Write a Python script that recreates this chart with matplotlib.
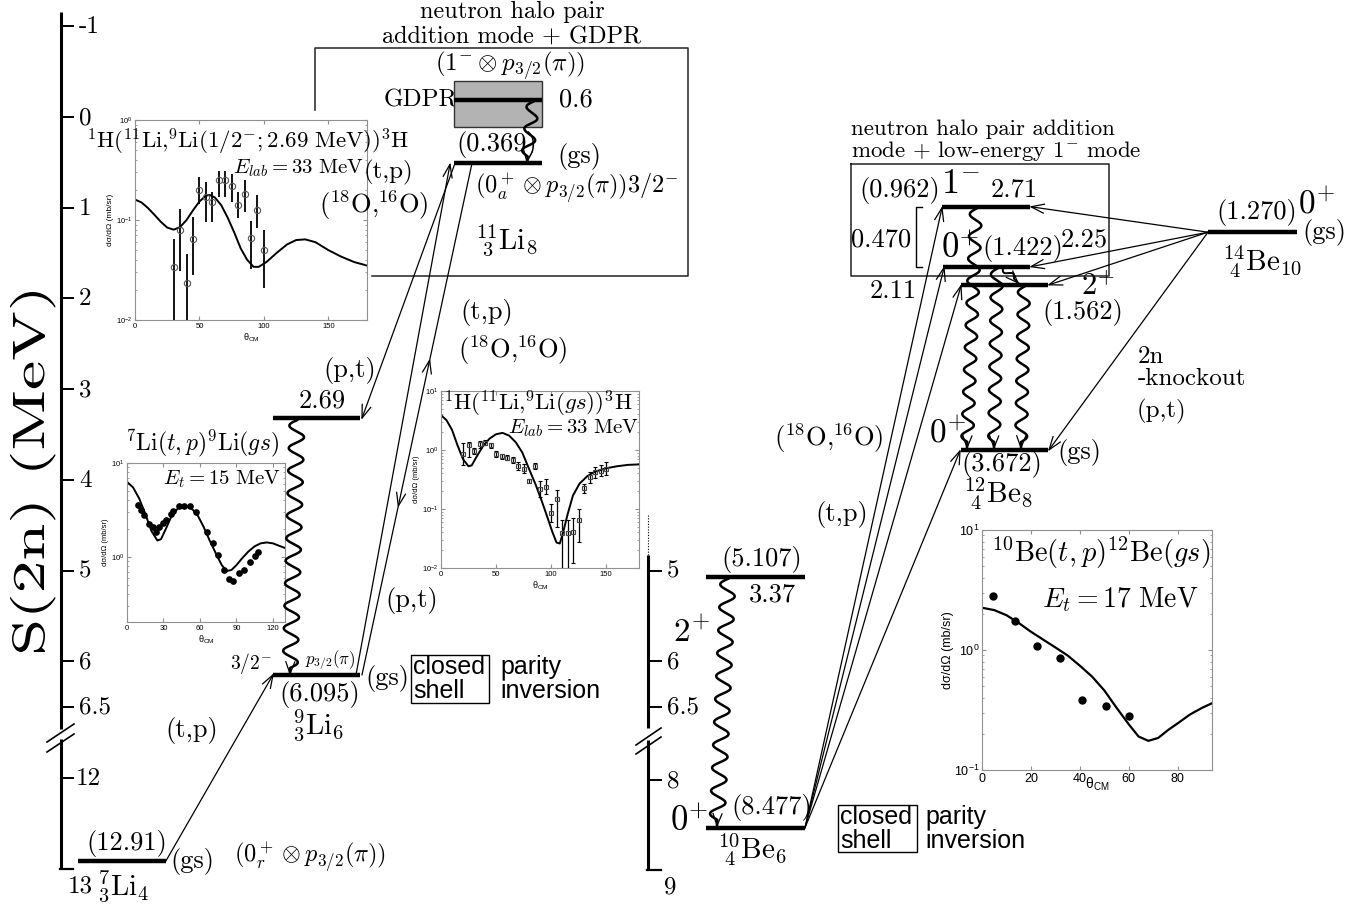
import numpy as np
import matplotlib
matplotlib.use("Agg")
import matplotlib.pyplot as plt
from matplotlib.patches import Rectangle, PathPatch
from matplotlib.textpath import TextPath
from matplotlib.font_manager import FontProperties
from matplotlib.transforms import Affine2D

plt.rcParams['mathtext.fontset'] = 'cm'
plt.rcParams['font.family'] = ['Liberation Sans', 'DejaVu Sans']
plt.rcParams['axes.unicode_minus'] = False

# ---------------- data ----------------
# S(2n) axis ticks (MeV)
li_ticks_upper = [-1, 0, 1, 2, 3, 4, 5, 6, 6.5]
li_ticks_lower = [12, 13]
be_ticks_upper = [5, 6, 6.5]
be_ticks_lower = [8, 9]

# drawn level positions on the S(2n) scale (MeV)
li_level_S2n = [12.91, 6.15, 3.32, 0.51, -0.19]       # 7Li gs, 9Li gs, 9Li 1/2-, 11Li gs, 11Li GDPR
li_level_labels = ['(12.91)', '(6.095)', '2.69', '(0.369)', '0.6']
be_level_S2n = [8.53, 5.07, 3.67, 1.85, 1.65, 0.99, 1.27]  # 10Be gs, 10Be 2+, 12Be gs, 12Be 2+, 12Be 0+, 12Be 1-, 14Be gs
be_level_labels = ['(8.477)', '(5.107)', '(3.672)', '(1.562)', '(1.422)', '(0.962)', '(1.270)']
be_exc_labels = ['3.37', '2.11', '2.25', '2.71']
gdpr_band_S2n = [-0.40, 0.11]

# inset 1: 1H(11Li,9Li(1/2-;2.69 MeV))3H
in1_curve_th = [0, 5, 10, 15, 20, 25, 30, 35, 40, 45, 50, 55, 58, 62, 67, 72, 77, 82, 87, 92, 96, 102, 110, 118, 125, 132, 140, 150, 160, 170, 180]
in1_curve_xs = [0.160, 0.150, 0.132, 0.113, 0.096, 0.084, 0.080, 0.085, 0.100, 0.125, 0.153, 0.175, 0.178, 0.168, 0.140, 0.105, 0.075, 0.052, 0.040, 0.034, 0.034, 0.038, 0.047, 0.057, 0.063, 0.064, 0.060, 0.050, 0.043, 0.038, 0.035]
in1_th = [30, 35, 40, 45, 50, 55, 60, 65, 70, 75, 80, 85, 90, 95, 100]
in1_xs = [0.034, 0.080, 0.0235, 0.065, 0.20, 0.17, 0.15, 0.25, 0.25, 0.22, 0.14, 0.18, 0.066, 0.125, 0.050]
in1_lo = [0.008, 0.031, 0.008, 0.028, 0.145, 0.095, 0.095, 0.17, 0.17, 0.15, 0.105, 0.12, 0.032, 0.083, 0.021]
in1_hi = [0.065, 0.13, 0.046, 0.108, 0.27, 0.24, 0.19, 0.31, 0.31, 0.29, 0.19, 0.25, 0.098, 0.177, 0.080]

# inset 2: 7Li(t,p)9Li(gs), Et = 15 MeV
in2_curve_th = [0, 5, 10, 15, 20, 25, 28, 32, 37, 42, 48, 53, 58, 63, 68, 73, 78, 82, 86, 90, 95, 100, 105, 110, 115, 120, 125, 130]
in2_curve_xs = [6.3, 5.5, 4.2, 2.9, 1.9, 1.5, 1.55, 2.0, 2.8, 3.3, 3.5, 3.3, 2.8, 2.1, 1.5, 1.1, 0.82, 0.71, 0.73, 0.82, 0.98, 1.15, 1.3, 1.40, 1.43, 1.40, 1.32, 1.25]
in2_th = [9, 11.5, 14, 18, 21, 24, 26.5, 29.5, 32, 36, 38, 43, 47, 52, 57, 66, 71, 75, 80, 84, 87, 92.5, 96.5, 101, 105, 108]
in2_xs = [3.57, 3.16, 2.8, 2.24, 2.09, 1.86, 2.09, 2.29, 2.46, 2.86, 3.1, 3.5, 3.5, 3.5, 3.0, 1.86, 1.4, 1.05, 0.72, 0.59, 0.56, 0.67, 0.72, 0.89, 1.03, 1.14]

# inset 3: 1H(11Li,9Li(gs))3H
in3_curve_th = [0, 5, 10, 15, 20, 25, 28, 32, 38, 44, 50, 56, 62, 68, 74, 80, 86, 92, 97, 101, 105, 108, 111, 115, 120, 126, 133, 140, 150, 160, 170, 180]
in3_curve_xs = [3.9, 3.2, 2.2, 1.2, 0.7, 0.53, 0.55, 0.75, 1.15, 1.55, 1.85, 1.95, 1.75, 1.35, 0.9, 0.48, 0.26, 0.13, 0.07, 0.042, 0.027, 0.026, 0.04, 0.08, 0.17, 0.27, 0.36, 0.43, 0.49, 0.53, 0.56, 0.57]
in3_th = [20, 25, 30, 35, 40, 45, 50, 55, 60, 65, 70, 75, 80, 85, 90, 95, 100, 105, 110, 115, 120, 125, 130, 135, 140, 145, 150]
in3_xs = [0.87, 1.2, 0.96, 1.24, 1.34, 1.2, 0.85, 0.78, 0.74, 0.67, 0.53, 0.48, 0.30, 0.53, 0.22, 0.24, 0.085, 0.15, 0.039, 0.039, 0.041, 0.066, 0.23, 0.35, 0.42, 0.44, 0.48]
in3_lo = [0.55, 0.75, 0.85, 1.1, 1.2, 1.08, 0.75, 0.70, 0.67, 0.60, 0.45, 0.40, 0.28, 0.47, 0.16, 0.18, 0.06, 0.05, 0.010, 0.010, 0.012, 0.028, 0.19, 0.28, 0.34, 0.36, 0.38]
in3_hi = [1.3, 1.35, 1.08, 1.4, 1.5, 1.33, 0.97, 0.87, 0.82, 0.75, 0.62, 0.58, 0.32, 0.60, 0.30, 0.32, 0.12, 0.21, 0.065, 0.065, 0.070, 0.10, 0.27, 0.42, 0.52, 0.55, 0.62]

# inset 4: 10Be(t,p)12Be(gs), Et = 17 MeV
in4_curve_th = [0, 5, 10, 15, 20, 25, 30, 35, 40, 45, 50, 55, 60, 64, 68, 72, 76, 80, 85, 90, 94]
in4_curve_xs = [2.25, 2.15, 1.95, 1.68, 1.42, 1.22, 1.05, 0.90, 0.74, 0.60, 0.46, 0.33, 0.24, 0.19, 0.175, 0.185, 0.215, 0.245, 0.29, 0.33, 0.36]
in4_th = [4.5, 13.5, 22.5, 32, 41, 50.5, 60]
in4_xs = [2.82, 1.75, 1.09, 0.85, 0.38, 0.34, 0.28]

# ---------------- figure ----------------
W, H = 1368, 906
fig = plt.figure(figsize=(W / 100, H / 100), dpi=100)
ax = fig.add_axes([0, 0, 1, 1], zorder=5)
ax.set_xlim(0, W)
ax.set_ylim(H, 0)
ax.axis('off')

SERIF = 'cmr10'
K = 'black'
LS = 19  # main label size
O18 = r'$(^{18}\mathrm{O}{,}^{16}\mathrm{O})$'


def yL(E):
    return 117 + 90.7 * E if E <= 7 else 778 + 91 * (E - 12)


def yB(E):
    return 117 + 90.7 * E if E <= 7 else 780 + 90 * (E - 8)


def T(x, y, s, size=LS, ha='center', va='center', fam=SERIF, **kw):
    ax.text(x, y, s, fontsize=size, ha=ha, va=va, family=fam, color=K, **kw)


def level(x0, x1, y, lw=3.2):
    ax.plot([x0, x1], [y, y], color=K, lw=lw, solid_capstyle='butt', zorder=6)


def head(xt, yt, xf, yf, L=13, w=4.5, lw=0.9):
    d = np.array([xt - xf, yt - yf], float)
    d /= np.hypot(*d)
    n = np.array([-d[1], d[0]])
    p1 = np.array([xt, yt]) - L * d + w * n
    p2 = np.array([xt, yt]) - L * d - w * n
    ax.plot([p1[0], xt, p2[0]], [p1[1], yt, p2[1]], color=K, lw=lw,
            solid_joinstyle='miter', zorder=6)


def arrow(x0, y0, x1, y1, lw=0.9, end=True):
    ax.plot([x0, x1], [y0, y1], color=K, lw=lw, zorder=6)
    if end:
        head(x1, y1, x0, y0)


def midhead(x0, y0, x1, y1, frac):
    xt, yt = x0 + (x1 - x0) * frac, y0 + (y1 - y0) * frac
    head(xt, yt, x0, y0)


def wavy(x0, y0, x1, y1, nper, amp, lw=1.8):
    d = np.array([x1 - x0, y1 - y0], float)
    Lh = np.hypot(*d)
    u = d / Lh
    n = np.array([-u[1], u[0]])
    t = np.linspace(0, 1, 600)
    frac_w = 1 - 6 / Lh
    s = np.where(t < frac_w, amp * np.sin(2 * np.pi * nper * t / frac_w), 0.0)
    xs = x0 + d[0] * t + n[0] * s
    ys = y0 + d[1] * t + n[1] * s
    ax.plot(xs, ys, color=K, lw=lw, zorder=6)
    head(x1, y1, x1 - u[0] * 10, y1 - u[1] * 10, L=12, w=4.5, lw=0.9)


# ---------------- left S(2n) axis ----------------
AX_X = 61
ax.plot([AX_X, AX_X], [12, 729], color=K, lw=2.2, solid_capstyle='butt')
ax.plot([AX_X, AX_X], [739, yL(13)], color=K, lw=2.2, solid_capstyle='butt')
ax.plot([AX_X - 1, AX_X + 12], [yL(13), yL(13)], color=K, lw=1.6)
for v in li_ticks_upper + li_ticks_lower[:1]:
    ax.plot([AX_X, AX_X + 12], [yL(v), yL(v)], color=K, lw=1.4)
    lab = str(v)
    T(AX_X + 18 if v != 12 else AX_X + 15, yL(v) + 1, lab, size=18, ha='left')
T(AX_X + 7, yL(13) + 17, '13', size=18, ha='left')
ax.plot([47, 74], [742, 724], color=K, lw=1.2)
ax.plot([47, 74], [752, 734], color=K, lw=1.2)

# stretched axis title
fp = FontProperties(family=SERIF)
tp = TextPath((0, 0), 'S(2n) (MeV)', size=1, prop=fp)
bb = tp.get_extents()
su = 360 / bb.width
sv = 31 / 0.683
tr = Affine2D.from_values(0, -su, -sv, 0, 44, 652 + bb.x0 * su)
ax.add_patch(PathPatch(tr.transform_path(tp), color=K, lw=0))

# ---------------- Li levels ----------------
y7, y9, y9x, y11, yg = [yL(e) for e in li_level_S2n]
level(78, 166, y7)
level(273, 360, y9)
level(273, 360, y9x)
level(454, 542, y11)
ax.add_patch(Rectangle((454, yL(gdpr_band_S2n[0])), 88,
                       yL(gdpr_band_S2n[1]) - yL(gdpr_band_S2n[0]),
                       facecolor='#b3b3b3', edgecolor='#333333', lw=1.0, zorder=5.5))
level(454, 542, yg)

T(127, y7 - 17, li_level_labels[0])
T(192, y7 + 1, '(gs)')
T(310, y7 - 3, r'$(0_r^+ \otimes p_{3/2}(\pi))$', size=17.5)
T(123, 886, r'$^{7}_{3}\mathrm{Li}_4$', size=21)
arrow(166, y7, 273, y9)
T(192, 730, '(t,p)')

T(320, 695, li_level_labels[1])
T(318, 725, r'$^{9}_{3}\mathrm{Li}_6$', size=21)
T(251, 664, r'$3/2^{-}$', size=14)
T(330, 660, r'$p_{3/2}(\pi)$', size=12)
T(387, 679, '(gs)')
ax.add_patch(Rectangle((411, 655), 78, 48, fill=False, edgecolor=K, lw=1.0, zorder=6))
T(413, 667, 'closed', size=18, fam='Liberation Sans', ha='left')
T(413, 691, 'shell', size=18, fam='Liberation Sans', ha='left')
T(500, 667, 'parity', size=18, fam='Liberation Sans', ha='left')
T(500, 691, 'inversion', size=18, fam='Liberation Sans', ha='left')

T(322, y9x - 17, li_level_labels[2])
wavy(297, y9x + 2, 290, y9 - 1, 11, 7.5)
T(202, 443, r'$^7\mathrm{Li}(t,p)^9\mathrm{Li}(gs)$', size=17)

# 11Li
ax.plot([315, 315, 688, 688, 372], [110, 48, 48, 276, 276], color='#222222', lw=1.1, zorder=5.4)
T(512, 12, 'neutron halo pair', size=17.5)
T(512, 37, 'addition mode + GDPR', size=17.5)
T(510, 66, r'$(1^{-} \otimes p_{3/2}(\pi))$', size=18)
T(421, 100, 'GDPR', size=18)
T(576, 100, li_level_labels[4], size=LS)
wavy(533, yg + 2, 527, y11 - 1, 2.5, 6)
T(497, 145, li_level_labels[3])
T(579, 156, '(gs)')
T(577, 189, r'$(0_a^+ \otimes p_{3/2}(\pi))3/2^{-}$', size=17.5)
T(506, 240, r'$^{11}_{\ 3}\mathrm{Li}_8$', size=21)
T(388, 172, '(t,p)', size=18)
T(374, 205, O18, size=LS)

arrow(356, y9, 450, y11 + 1)
arrow(455, y11, 362, y9x)
arrow(362, y9, 472, y11, end=False)
midhead(362, y9, 472, y11, 0.615)
midhead(472, y11, 362, y9, 0.67)
T(350, 370, '(p,t)')
T(487, 312, '(t,p)')
T(513, 350, O18, size=LS)
T(412, 601, '(p,t)')

# ---------------- Be axis ----------------
BX = 648
ax.plot([BX, BX], [515, 555], color=K, lw=0.8, ls=(0, (1, 1.5)))
ax.plot([BX, BX], [555, 728], color=K, lw=2.2, solid_capstyle='butt')
ax.plot([BX, BX], [740, yB(9)], color=K, lw=2.2, solid_capstyle='butt')
ax.plot([BX - 1, BX + 13], [yB(9), yB(9)], color=K, lw=1.6)
for v in be_ticks_upper + be_ticks_lower[:1]:
    ax.plot([BX, BX + 13], [yB(v), yB(v)], color=K, lw=1.4)
    T(BX + 19, yB(v) + 1, str(v), size=18, ha='left')
T(BX + 16, yB(9) + 17, '9', size=18, ha='left')
ax.plot([636, 661], [745, 728], color=K, lw=1.2)
ax.plot([636, 661], [754, 737], color=K, lw=1.2)

# 10Be
yb10, yb10x, yb12, yb12_2, yb12_0, yb12_1, yb14 = [yB(e) for e in be_level_S2n]
level(706, 805, yb10)
level(706, 805, yb10x)
wavy(728, yb10x + 2, 717, yb10 - 2, 10.5, 7.5)
T(762, yb10x - 17, be_level_labels[1])
T(772, yb10x + 18, be_exc_labels[0])
T(691, 632, r'$2^{+}$', size=24)
T(689, 822, r'$0^{+}$', size=25)
T(772, yb10 - 20, be_level_labels[0])
T(752, 850, r'$^{10}_{\ 4}\mathrm{Be}_6$', size=21)
ax.add_patch(Rectangle((838, 805), 79, 47, fill=False, edgecolor=K, lw=1.0, zorder=6))
T(840, 817, 'closed', size=18, fam='Liberation Sans', ha='left')
T(840, 841, 'shell', size=18, fam='Liberation Sans', ha='left')
T(925, 817, 'parity', size=18, fam='Liberation Sans', ha='left')
T(925, 841, 'inversion', size=18, fam='Liberation Sans', ha='left')

# 12Be
level(942, 1030, yb12_1)
level(943, 1030, yb12_0)
level(961, 1048, yb12_2)
level(961, 1048, yb12)
ax.plot([851, 1109, 1109, 851, 851], [164, 164, 276, 276, 164], color='#222222', lw=1.1, zorder=5.4)
T(851, 129, 'neutron halo pair addition', size=16.5, ha='left')
T(851, 151, r'mode + low-energy 1$^{\mathbf{-}}$ mode', size=16.5, ha='left')
ax.plot([922, 916, 916, 922], [yb12_1, yb12_1, yb12_0, yb12_0], color=K, lw=1.0)
T(900, 190, be_level_labels[5])
T(961, 184, r'$1^{-}$', size=26)
T(1014, 190, be_exc_labels[3])
T(881, 240, '0.470')
T(960, 249, r'$0^{+}$', size=25)
T(1023, 249, be_level_labels[4])
T(1084, 240, be_exc_labels[2])
T(893, 291, be_exc_labels[1])
T(1098, 287, r'$2^{+}$', size=22)
T(1083, 313, be_level_labels[3])
T(947, 433, r'$0^{+}$', size=24)
T(1079, 452, '(gs)')
T(1002, 465, be_level_labels[2])
T(998, 494, r'$^{12}_{\ 4}\mathrm{Be}_8$', size=21)

wavy(976, yb12_1 + 2, 967, yb12 - 2, 10.5, 6)
wavy(997, yb12_0 + 2, 994, yb12 - 2, 7.5, 6)
wavy(1024, yb12_2 + 2, 1021, yb12 - 2, 7, 6)
wavy(1003, yb12_0 + 1, 1018, yb12_2 - 2, 1, 3, lw=1.4)

for (xe, ye) in [(942, yb12_1), (944, yb12_0), (961, yb12_2), (960, yb12)]:
    arrow(805, yb10, xe, ye + 1)
T(829, 438, O18, size=LS)
T(842, 514, '(t,p)')

# 14Be
level(1208, 1297, yb14)
T(1257, 213, be_level_labels[6])
T(1316, 204, r'$0^{+}$', size=24)
T(1324, 233, '(gs)')
T(1262, 262, r'$^{14}_{\ 4}\mathrm{Be}_{10}$', size=21)
for (xe, ye) in [(1031, yb12_1), (1031, yb12_0), (1049, yb12_2), (1049, yb12)]:
    arrow(1208, yb14, xe, ye)
T(1138, 357, '2n', size=18, ha='left')
T(1138, 379, '-knockout', size=18, ha='left')
T(1137, 411, '(p,t)', size=18, ha='left')


# ---------------- insets ----------------
def inset(box, xlim, ylim, xticks, fs):
    x0, y0, x1, y1 = box
    a = fig.add_axes([x0 / W, 1 - y1 / H, (x1 - x0) / W, (y1 - y0) / H], zorder=1)
    a.set_yscale('log')
    a.set_xlim(xlim)
    a.set_ylim(ylim)
    a.set_xticks(xticks)
    for s in a.spines.values():
        s.set_color('#909090')
        s.set_linewidth(0.8)
    a.tick_params(which='both', direction='in', top=True, right=True, color='#909090',
                  labelsize=fs, pad=2)
    a.tick_params(which='major', length=3)
    a.tick_params(which='minor', length=1.5)
    return a


a1 = inset((135, 120, 367, 320), (0, 180), (0.01, 1), [0, 50, 100, 150], 5.5)
a1.plot(in1_curve_th, in1_curve_xs, color=K, lw=1.4)
a1.errorbar(in1_th, in1_xs,
            yerr=[np.array(in1_xs) - np.array(in1_lo), np.array(in1_hi) - np.array(in1_xs)],
            fmt='o', ms=4.5, mfc='none', mec='#555555', mew=0.8, ecolor=K, elinewidth=1.3, capsize=0)
a1.set_ylabel('dσ/dΩ (mb/sr)', fontsize=6, labelpad=1)
a1.set_xlabel(r'θ$_{\mathdefault{CM}}$', fontsize=6.5, labelpad=1)
T(248, 142, r'$^{1}\mathrm{H}(^{11}\mathrm{Li}{,}^{9}\mathrm{Li}(1/2^{-};2.69\ \mathrm{MeV}))^{3}\mathrm{H}$', size=16.5)
T(364, 168, r'$E_{lab}=33\ \mathrm{MeV}$', size=15, ha='right')

a2 = inset((127, 463, 285, 622), (0, 130), (0.204, 10), [0, 30, 60, 90, 120], 5.5)
a2.plot(in2_curve_th, in2_curve_xs, color=K, lw=1.4)
a2.plot(in2_th, in2_xs, 'o', color=K, ms=3.8)
a2.set_ylabel('dσ/dΩ (mb/sr)', fontsize=5.5, labelpad=1)
a2.set_xlabel(r'θ$_{\mathdefault{CM}}$', fontsize=6.5, labelpad=1)
T(281, 479, r'$E_t = 15\ \mathrm{MeV}$', size=15, ha='right')

a3 = inset((441, 391, 639, 568), (0, 180), (0.01, 10), [0, 50, 100, 150], 5.5)
a3.plot(in3_curve_th, in3_curve_xs, color=K, lw=1.4)
a3.errorbar(in3_th, in3_xs,
            yerr=[np.array(in3_xs) - np.array(in3_lo), np.array(in3_hi) - np.array(in3_xs)],
            fmt='s', ms=3.5, mfc='none', mec='#444444', mew=0.8, ecolor=K, elinewidth=0.9,
            capsize=1.5, capthick=0.8)
a3.set_ylabel('dσ/dΩ (mb/sr)', fontsize=5.5, labelpad=1)
a3.set_xlabel(r'θ$_{\mathdefault{CM}}$', fontsize=6.5, labelpad=1)
T(538, 404, r'$^{1}\mathrm{H}(^{11}\mathrm{Li}{,}^{9}\mathrm{Li}(gs))^{3}\mathrm{H}$', size=16.5)
T(639, 428, r'$E_{lab}=33\ \mathrm{MeV}$', size=15, ha='right')

a4 = inset((982, 530, 1212, 770), (0, 94), (0.1, 10), [0, 20, 40, 60, 80], 9)
a4.plot(in4_curve_th, in4_curve_xs, color=K, lw=1.6)
a4.plot(in4_th, in4_xs, 'o', color=K, ms=5)
a4.set_ylabel('dσ/dΩ (mb/sr)', fontsize=9, labelpad=0)
a4.text(0.5, -0.025, r'θ$_{\mathdefault{CM}}$', transform=a4.transAxes, ha='center', va='top', fontsize=10)
T(1101, 553, r'$^{10}\mathrm{Be}(t,p)^{12}\mathrm{Be}(gs)$', size=20.5)
T(1199, 600, r'$E_t = 17\ \mathrm{MeV}$', size=20, ha='right')

fig.savefig('out.png', dpi=100)
